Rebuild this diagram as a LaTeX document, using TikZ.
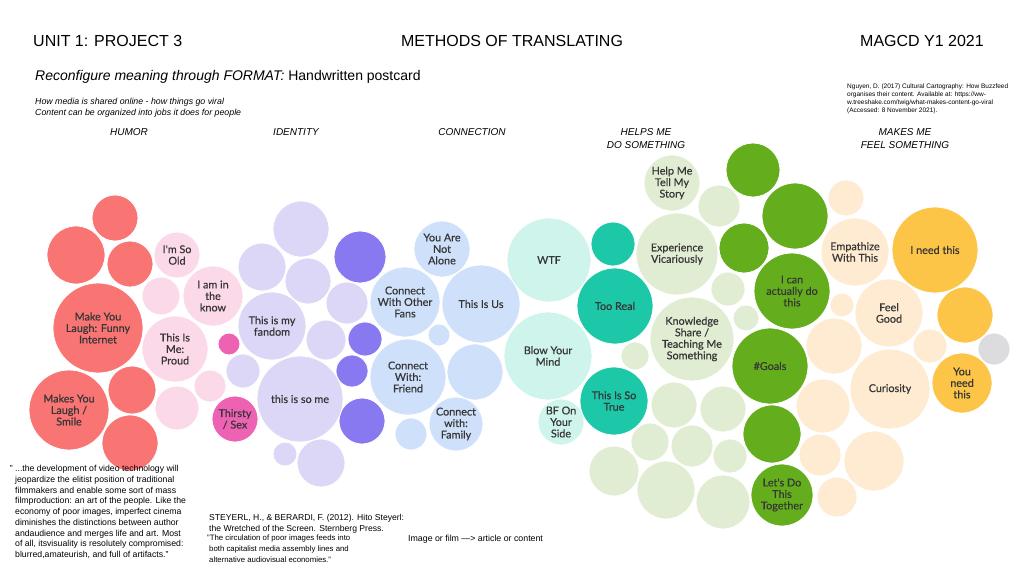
\documentclass[tikz,border=0pt]{standalone}
\usepackage{fontspec}
\setmainfont{Liberation Sans}
\newfontfamily\bubfont{Lato}[FakeBold=0.5]
\usepackage{tikz}
\definecolor{redc}{HTML}{F87574}
\definecolor{pinkc}{HTML}{FCD9E8}
\definecolor{hotc}{HTML}{EE62B4}
\definecolor{lavc}{HTML}{DCD7F6}
\definecolor{purc}{HTML}{8979F0}
\definecolor{bluec}{HTML}{CFE0FB}
\definecolor{tealc}{HTML}{CFF4EC}
\definecolor{dtealc}{HTML}{1CC8A8}
\definecolor{lgreenc}{HTML}{E1EDD3}
\definecolor{greenc}{HTML}{64AE1E}
\definecolor{peachc}{HTML}{FEEBD2}
\definecolor{yellc}{HTML}{FDC547}
\definecolor{greyc}{HTML}{DCDCDE}
\definecolor{txtc}{HTML}{363636}

\begin{document}
\begin{tikzpicture}[x=1pt,y=-1pt,
    bub/.style={circle,fill=#1,draw=white,line width=0.8pt,inner sep=0pt,align=center,
      text=txtc,font=\bubfont\fontsize{10.8}{11.5}\selectfont},
    rad/.style={minimum size=#1*2pt},
    cat/.style={inner sep=0pt,align=center,font=\itshape\fontsize{10}{13}\selectfont},
    note/.style={inner sep=0pt,align=left,anchor=north west}]
\useasboundingbox[fill=white] (0,0) rectangle (1024,576);

% 标题
\node[inner sep=0pt,anchor=west,font=\fontsize{16}{18}\selectfont] (unit) at (33,41) {UNIT 1: PROJECT 3};
\node[inner sep=0pt,font=\fontsize{16}{18}\selectfont] (title) at (512,41) {METHODS OF TRANSLATING};
\node[inner sep=0pt,anchor=east,font=\fontsize{16}{18}\selectfont] (year) at (984,41) {MAGCD Y1 2021};
\node[inner sep=0pt,anchor=west,font=\fontsize{14}{16}\selectfont] (format) at (35,77)
  {\textit{Reconfigure meaning through FORMAT:} Handwritten postcard};
\node[note,font=\itshape\fontsize{8.8}{11}\selectfont] (howto) at (35,98)
  {How media is shared online - how things go viral\\Content can be organized into jobs it does for people};
\node[note,font=\fontsize{6.5}{7.8}\selectfont] (cite) at (847,84)
  {Nguyen, D. (2017) Cultural Cartography: How Buzzfeed\\organises their content. Available at: https://ww-\\w.treeshake.com/twig/what-makes-content-go-viral\\(Accessed: 8 November 2021).};

\node[cat] (humor) at (129,132) {HUMOR};
\node[cat] (ident) at (296,132) {IDENTITY};
\node[cat] (conn) at (472,132) {CONNECTION};
\node[cat] (helps) at (646,138.5) {HELPS ME\\DO SOMETHING};
\node[cat] (feels) at (905,138.5) {MAKES ME\\FEEL SOMETHING};

% 无字的圆
\foreach \x/\y/\r in {115/218/23,76/255/29,130/264/23,132/390/24,130/443/28}
  \filldraw[fill=redc,draw=white,line width=0.8pt] (\x,\y) circle (\r pt);
\foreach \x/\y/\r in {161/296/19,210/386/16,177/408/22}
  \filldraw[fill=pinkc,draw=white,line width=0.8pt] (\x,\y) circle (\r pt);
\filldraw[fill=hotc,draw=white,line width=0.8pt] (229,344) circle (11pt);
\foreach \x/\y/\r in {301/229/28,262/267/24,308/281/23,347/303/21,326/340/20,243/371/17,285/454/12,321/463/24}
  \filldraw[fill=lavc,draw=white,line width=0.8pt] (\x,\y) circle (\r pt);
\foreach \x/\y/\r in {360/257/26,365/339/17,352/371/16,362/421/23}
  \filldraw[fill=purc,draw=white,line width=0.8pt] (\x,\y) circle (\r pt);
\foreach \x/\y/\r in {439/335/11,475/372/28,411/434/16}
  \filldraw[fill=bluec,draw=white,line width=0.8pt] (\x,\y) circle (\r pt);
\filldraw[fill=dtealc,draw=white,line width=0.8pt] (613,244) circle (22pt);
\foreach \x/\y/\r in {719/206/21,728/289/17,746/318/13,635/356/14,674/405/23,723/409/23,650/442/19,692/446/21,730/456/17,614/471/25,666/490/29,723/502/27}
  \filldraw[fill=lgreenc,draw=white,line width=0.8pt] (\x,\y) circle (\r pt);
\foreach \x/\y/\r in {753/170/27,795/216/33,744/248/25,772/434/29}
  \filldraw[fill=greenc,draw=white,line width=0.8pt] (\x,\y) circle (\r pt);
\foreach \x/\y/\r in {846/198/18,842/305/12,834/346/28,930/346/17,823/406/27,820/455/21,874/461/30,837/497/20}
  \filldraw[fill=peachc,draw=white,line width=0.8pt] (\x,\y) circle (\r pt);
\filldraw[fill=yellc,draw=white,line width=0.8pt] (965,315) circle (28pt);
\filldraw[fill=greyc,draw=white,line width=0.8pt] (994,349) circle (16pt);

% 有字的圆
\node[bub=redc,rad=45] (laugh) at (98,328) {Make You\\Laugh: Funny\\Internet};
\node[bub=redc,rad=40] (smile) at (69,410) {Makes You\\Laugh /\\Smile};
\node[bub=pinkc,rad=23] (old) at (177,255) {I'm So\\Old};
\node[bub=pinkc,rad=30] (know) at (213,296) {I am in\\the\\know};
\node[bub=pinkc,rad=33] (proud) at (175,349) {This Is\\Me:\\Proud};
\node[bub=hotc,rad=23] (thirsty) at (235,419) {Thirsty\\/ Sex};
\node[bub=lavc,rad=34] (fandom) at (272,326) {This is my\\fandom};
\node[bub=lavc,rad=43] (someme) at (300,399) {this is so me};
\node[bub=bluec,rad=28] (alone) at (442,249) {You Are\\Not\\Alone};
\node[bub=bluec,rad=35] (fans) at (405,302) {Connect\\With Other\\Fans};
\node[bub=bluec,rad=39] (us) at (481,304) {This Is Us};
\node[bub=bluec,rad=38] (friend) at (408,377) {Connect\\With:\\Friend};
\node[bub=bluec,rad=27] (family) at (456,424) {Connect\\with:\\Family};
\node[bub=tealc,rad=42] (wtf) at (549,260) {WTF};
\node[bub=tealc,rad=44] (mind) at (548,356) {Blow Your\\Mind};
\node[bub=tealc,rad=23] (bf) at (561,422) {BF On\\Your\\Side};
\node[bub=dtealc,rad=38] (real) at (615,306) {Too Real};
\node[bub=dtealc,rad=34] (sotrue) at (614,401) {This Is So\\True};
\node[bub=lgreenc,rad=28] (story) at (672,183) {Help Me\\Tell My\\Story};
\node[bub=lgreenc,rad=41] (vicar) at (677,254) {Experience\\Vicariously};
\node[bub=lgreenc,rad=42] (teach) at (692,339) {Knowledge\\Share /\\Teaching Me\\Something};
\node[bub=greenc,rad=38] (cando) at (792,291) {I can\\actually do\\this};
\node[bub=greenc,rad=38] (goals) at (770,366) {\#Goals};
\node[bub=greenc,rad=31] (together) at (782,495) {Let's Do\\This\\Together};
\node[bub=peachc,rad=34] (empath) at (855,252) {Empathize\\With This};
\node[bub=peachc,rad=34] (good) at (889,313) {Feel\\Good};
\node[bub=peachc,rad=40] (curious) at (890,389) {Curiosity};
\node[bub=yellc,rad=43] (need) at (935,250) {I need this};
\node[bub=yellc,rad=30] (youneed) at (962,383) {You\\need\\this};

% 引文
\node[note,font=\fontsize{8.7}{10.75}\selectfont] (poor) at (15,465)
  {\llap{" }...the development of video technology will\\
   jeopardize the elitist position of traditional\\
   filmmakers and enable some sort of mass\\
   filmproduction: an art of the people. Like the\\
   economy of poor images, imperfect cinema\\
   diminishes the distinctions between author\\
   andaudience and merges life and art. Most\\
   of all, itsvisuality is resolutely compromised:\\
   blurred,amateurish, and full of artifacts."};
\node[note,font=\fontsize{8.6}{11.5}\selectfont] (steyerl) at (209,514)
  {STEYERL, H., \& BERARDI, F. (2012). Hito Steyerl:\\the Wretched of the Screen. Sternberg Press.};
\node[note,font=\fontsize{7.8}{11}\selectfont] (circ) at (207,535)
  {"The circulation of poor images feeds into\\
   \hspace{2pt}both capitalist media assembly lines and\\
   \hspace{2pt}alternative audiovisual economies."};
\node[note,font=\fontsize{8.8}{11}\selectfont] (film) at (408,535) {Image or film —> article or content};
\end{tikzpicture}
\end{document}
